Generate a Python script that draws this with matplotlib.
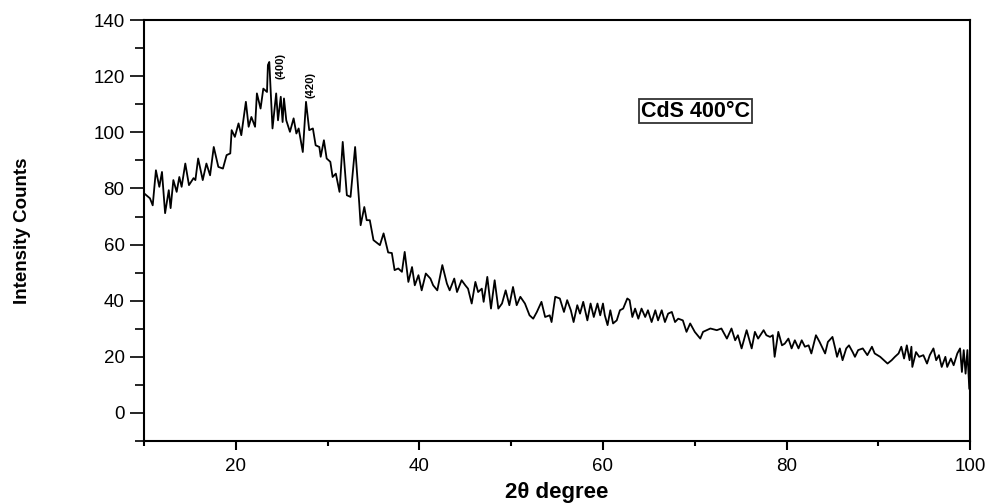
'''
    XRD pattern: CdS annealed at 400 C
'''

# --
# Dependancies
import matplotlib
matplotlib.use('Agg')
import matplotlib.pyplot as plt
from matplotlib.ticker import MultipleLocator

plt.rcParams['font.family'] = ['Liberation Sans', 'DejaVu Sans']

# --
# Data (2theta, counts)
two_theta = [10.0, 10.65, 10.95, 11.3, 11.67, 11.96, 12.3, 12.7, 12.9, 13.2,
             13.56, 13.85, 14.1, 14.5, 14.9, 15.4, 15.6, 15.9, 16.4, 16.8,
             17.2, 17.6, 18.1, 18.6, 19.0, 19.4, 19.55, 19.9, 20.3, 20.6,
             21.1, 21.4, 21.7, 22.1, 22.3, 22.7, 23.0, 23.4, 23.5, 23.65,
             24.0, 24.4, 24.6, 24.9, 25.1, 25.25, 25.5, 25.9, 26.3, 26.6,
             26.85, 27.3, 27.65, 28.0, 28.4, 28.7, 29.1, 29.25, 29.6, 29.9,
             30.3, 30.55, 30.9, 31.3, 31.65, 32.1, 32.5, 33.0, 33.45, 33.6,
             34.0, 34.26, 34.6, 35.0, 35.7, 36.1, 36.6,
             37.0, 37.3, 37.7, 38.1, 38.4, 38.8, 39.2, 39.5, 39.9, 40.25,
             40.7, 41.2, 41.5, 41.95, 42.5, 43.0, 43.3, 43.8, 44.1, 44.6,
             45.0, 45.3, 45.7, 46.1, 46.4, 46.8, 47.0, 47.4, 47.8, 48.2,
             48.6, 49.0, 49.4, 49.8, 50.2, 50.6, 51.0, 51.5, 52.0, 52.4,
             52.8, 53.3, 53.7, 54.2, 54.4, 54.8, 55.3, 55.75, 56.1,
             56.5, 56.8, 57.2, 57.5, 57.85, 58.3, 58.65, 59.0, 59.4, 59.7,
             60.0, 60.2, 60.5, 60.8, 61.1, 61.5, 61.85, 62.2, 62.65, 62.9,
             63.2, 63.5, 63.85, 64.2, 64.6, 64.9, 65.3, 65.7, 66.0, 66.4,
             66.75, 67.1, 67.5, 67.85, 68.2, 68.7, 69.1, 69.5, 70.0, 70.6,
             70.9, 71.7, 72.4, 72.9, 73.5, 74.0, 74.4, 74.7, 75.1, 75.65,
             76.2, 76.55, 76.9, 77.5,
             77.8, 78.2, 78.5, 78.7, 79.1, 79.5, 79.8, 80.2, 80.55, 80.9,
             81.3, 81.65, 82.0, 82.4, 82.7, 83.2, 83.6, 84.2, 84.5, 85.0,
             85.3, 85.5, 85.8, 86.1, 86.5, 86.8, 87.2, 87.45, 87.8, 88.3,
             88.8, 89.3, 89.6, 90.2, 90.6, 91.0, 91.45, 91.8, 92.2, 92.5,
             92.8, 93.1, 93.4, 93.6, 93.7, 94.1, 94.45, 94.9, 95.3, 95.6,
             96.0, 96.3, 96.6, 96.9, 97.3, 97.5, 97.9, 98.2, 98.6, 98.9,
             99.1, 99.3, 99.5, 99.7, 99.9, 100.0]
counts = [78.3, 76.5, 74, 86.5, 80.6, 85.9, 71.2, 79.4, 73, 83,
          78.8, 84.1, 80.6, 88.9, 81.2, 83.7, 83, 90.7, 83, 88.9,
          84.7, 94.8, 87.7, 87.1, 91.9, 92.5, 100.8, 98.4, 103.2, 99,
          110.9, 102, 105.5, 102, 113.9, 108.5, 115.6, 114.4, 124, 125.1,
          101.4, 113.9, 104.3, 112.7, 103.7, 112.1, 104.3, 100.2, 105, 99.6,
          101.4, 93, 110.9, 100.8, 101.4, 95.4, 94.8, 91.3, 97.2, 90.7,
          89.5, 84.1, 85.3, 78.8, 96.6, 77.6, 77, 94.8, 74.7, 66.9,
          73.4, 68.7, 68.7, 61.6, 59.8, 64, 57.2,
          57, 50.9, 51.5, 50.3, 57.4, 46.7, 52, 45.5, 49.1, 43.7,
          49.7, 47.9, 45.5, 43.7, 52.7, 46.1, 43.7, 47.9, 43.1, 47.3,
          45.5, 44.3, 39, 46.7, 43.1, 44.3, 39.6, 48.5, 37.2, 47.3,
          37.2, 39, 43.7, 38.4, 44.9, 38.4, 41.4, 39, 34.8, 33.6,
          36, 39.6, 34.2, 34.8, 32.4, 41.4, 40.8, 36, 40.2,
          36.6, 32.4, 38.4, 35.4, 39.6, 33, 39, 34.2, 39, 34.8,
          39, 34.8, 31.3, 36.6, 31.9, 33, 36.6, 37.2, 40.8, 40.2,
          34.2, 37.2, 33.6, 37.2, 34.2, 36.6, 32.4, 36.6, 33, 36.6,
          32.4, 35.4, 36, 32.4, 33.6, 33, 28.9, 31.9, 28.9, 26.5,
          28.9, 30.1, 29.5, 30.1, 26.5, 30.1, 25.9, 27.7, 23, 29.5,
          23, 28.9, 26.5, 29.5,
          27.7, 27.1, 27.7, 20, 28.9, 24.1, 24.7, 26.5, 23, 25.9,
          23, 25.9, 23.6, 24.1, 21.2, 27.7, 25.3, 21.2, 25.3, 27.1,
          23, 20, 23, 18.8, 23, 24.1, 21.7, 20, 22.4, 23,
          20.6, 23.6, 21.2, 20, 18.8, 17.6, 18.8, 20, 21.2, 23.6,
          19.4, 24.1, 18.8, 23.6, 16.4, 21.7, 20, 20.6, 17.6, 20.6,
          23, 18.8, 20.6, 16.4, 20, 16.4, 19.4, 17, 21.2, 23,
          14.6, 22.4, 14, 22.4, 8.7, 8]

# peak labels (hkl) and where they sit
peak_labels = ['(400)', '(420)']
peak_pos = [24.9, 28.1]
peak_y = [123.6, 116.8]

# --
# Plot
fig = plt.figure(figsize=(9.93, 5.04), dpi=100)
ax = fig.add_axes([0.145, 0.125, 0.832, 0.835])
ax.plot(two_theta, counts, color='black', lw=1.3)

for lab, px, py in zip(peak_labels, peak_pos, peak_y):
    ax.text(px, py, lab, rotation=90, ha='center', va='center',
            fontsize=8, fontweight='bold')

ax.text(70.1, 107.6, 'CdS 400\u00b0C', ha='center', va='center',
        fontsize=15.5, fontweight='bold',
        bbox=dict(facecolor='white', edgecolor='#333333', lw=1.3, pad=1.2))

ax.set_xlim(10, 100)
ax.set_ylim(-10, 140)
ax.xaxis.set_major_locator(MultipleLocator(20))
ax.xaxis.set_minor_locator(MultipleLocator(10))
ax.yaxis.set_major_locator(MultipleLocator(20))
ax.yaxis.set_minor_locator(MultipleLocator(10))
ax.set_yticks(range(0, 141, 20))

ax.tick_params(axis='x', which='major', length=6.5, width=1.5, labelsize=13.5, pad=6)
ax.tick_params(axis='x', which='minor', length=3.5, width=1.5)
ax.tick_params(axis='y', which='major', length=10, width=1.2, labelsize=13.5, pad=4)
ax.tick_params(axis='y', which='minor', length=6.5, width=1.2)
for s in ax.spines.values():
    s.set_linewidth(1.5)

ax.set_xlabel('2\u03b8 degree', fontsize=16, fontweight='bold', va='center')
ax.xaxis.set_label_coords(0.5, -0.1235)
ax.set_ylabel('Intensity Counts', fontsize=13.5, fontweight='bold', va='center')
ax.yaxis.set_label_coords(-0.1465, 0.5)

plt.savefig('out.png', dpi=100)
plt.close('all')
